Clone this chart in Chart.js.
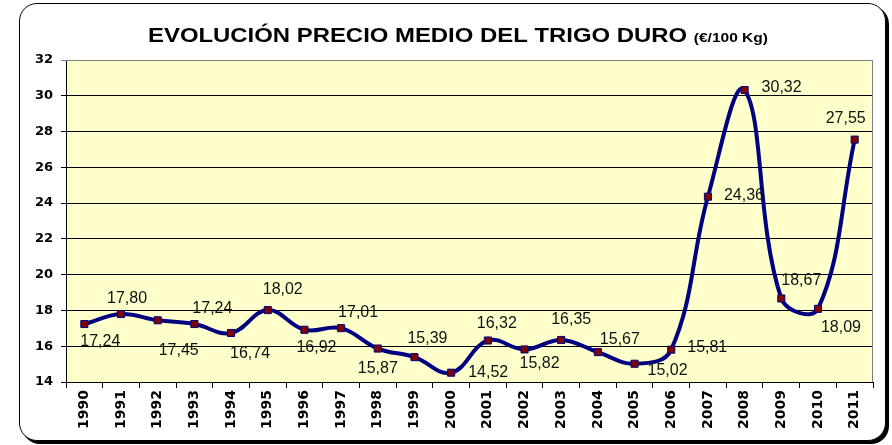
<!DOCTYPE html>
<html>
<head>
<meta charset="utf-8">
<script src="https://cdn.jsdelivr.net/npm/chart.js@4/dist/chart.umd.min.js"></script>
<style>
    html, body { margin: 0; padding: 0; background: #fff; }
    #wrap { position: relative; width: 892px; height: 445px; }
    #frame {
        position: absolute; left: 19px; top: 3px; width: 865px; height: 436px;
        border: 1.5px solid #000; border-radius: 18px; box-shadow: 3px 3px 0 #000;
        background: #fff;
    }
    #chart { position: absolute; left: 0; top: 0; }
</style>
</head>
<body>
<div id="wrap">
    <div id="frame"></div>
    <canvas id="chart" width="892" height="445"></canvas>
</div>
<script>
const years = ['1990', '1991', '1992', '1993', '1994', '1995', '1996', '1997', '1998', '1999', '2000',
               '2001', '2002', '2003', '2004', '2005', '2006', '2007', '2008', '2009', '2010', '2011'];
const prices = [17.24, 17.80, 17.45, 17.24, 16.74, 18.02, 16.92, 17.01, 15.87, 15.39, 14.52,
                16.32, 15.82, 16.35, 15.67, 15.02, 15.81, 24.36, 30.32, 18.67, 18.09, 27.55];
const yTicks = [14, 16, 18, 20, 22, 24, 26, 28, 30, 32];

const titleMain = 'EVOLUCIÓN PRECIO MEDIO DEL TRIGO DURO ';
const titleUnit = '(€/100 Kg)';

// where each value label sits, relative to its point (px)
const labelOffsets = [
    [16, 18], [6, -15], [21, 30], [18, -15], [19, 21], [15, -20], [12, 18], [17, -16],
    [0, 20], [13, -19], [37, 0], [9, -17], [15, 14], [10, -20], [22, -13], [33, 7],
    [36, -2], [36, -1], [37, -2], [20, -18], [23, 19], [-9, -21]
];

const plotBackground = {
    id: 'plotBackground',
    beforeDraw(chart) {
        const { ctx, chartArea: a } = chart;
        ctx.save();
        ctx.fillStyle = '#FFFFCC';
        ctx.fillRect(a.left, a.top, a.right - a.left, a.bottom - a.top);
        ctx.restore();
    },
    afterDraw(chart) {
        const { ctx, chartArea: a } = chart;
        ctx.save();
        ctx.strokeStyle = '#808080';
        ctx.lineWidth = 1;
        ctx.beginPath();
        ctx.moveTo(a.left, a.top + 0.5);
        ctx.lineTo(a.right - 0.5, a.top + 0.5);
        ctx.lineTo(a.right - 0.5, a.bottom);
        ctx.stroke();
        ctx.restore();
    }
};

const titleText = {
    id: 'titleText',
    afterDraw(chart) {
        const ctx = chart.ctx;
        ctx.save();
        ctx.fillStyle = '#000';
        ctx.textBaseline = 'alphabetic';
        ctx.font = 'bold 20px "Liberation Sans", Arial, sans-serif';
        const w1 = ctx.measureText(titleMain).width;
        ctx.font = 'bold 13px "Liberation Sans", Arial, sans-serif';
        const w2 = ctx.measureText(titleUnit).width;
        const target = 620;
        const sx = target / (w1 + w2);
        ctx.translate(458 - target / 2, 42);
        ctx.scale(sx, 1);
        ctx.font = 'bold 20px "Liberation Sans", Arial, sans-serif';
        ctx.fillText(titleMain, 0, 0);
        ctx.font = 'bold 13px "Liberation Sans", Arial, sans-serif';
        ctx.fillText(titleUnit, w1, 0);
        ctx.restore();
    }
};

const valueLabels = {
    id: 'valueLabels',
    afterDatasetsDraw(chart) {
        const ctx = chart.ctx;
        const meta = chart.getDatasetMeta(0);
        ctx.save();
        ctx.fillStyle = '#111';
        ctx.font = '16px "Liberation Sans", Arial, sans-serif';
        ctx.textAlign = 'center';
        ctx.textBaseline = 'middle';
        meta.data.forEach((pt, i) => {
            const off = labelOffsets[i];
            const txt = prices[i].toFixed(2).replace('.', ',');
            ctx.fillText(txt, pt.x + off[0], pt.y + off[1]);
        });
        ctx.restore();
    }
};

new Chart(document.getElementById('chart'), {
    type: 'line',
    data: {
        labels: years,
        datasets: [{
            data: prices,
            borderColor: '#000080',
            borderWidth: 4,
            tension: 0.4,
            fill: false,
            pointStyle: 'rect',
            pointRadius: 5,
            pointBackgroundColor: '#800000',
            pointBorderColor: '#000080',
            pointBorderWidth: 1
        }]
    },
    options: {
        responsive: false,
        animation: false,
        layout: { padding: { top: 60, right: 19, left: 0, bottom: 0 } },
        plugins: {
            legend: { display: false },
            title: { display: false },
            tooltip: { enabled: false }
        },
        scales: {
            x: {
                offset: true,
                grid: {
                    offset: true,
                    drawOnChartArea: false,
                    drawTicks: true,
                    tickLength: 6,
                    color: '#000'
                },
                border: { color: '#000', width: 1 },
                ticks: {
                    autoSkip: false,
                    minRotation: 90,
                    maxRotation: 90,
                    padding: 2,
                    color: '#000',
                    font: { family: '"DejaVu Sans", sans-serif', weight: 'bold', size: 14 }
                },
                afterFit(scale) { scale.height = 63; }
            },
            y: {
                min: 14,
                max: 32,
                afterBuildTicks(scale) { scale.ticks = yTicks.map(v => ({ value: v })); },
                grid: {
                    color: ctx => ctx.tick && ctx.tick.value === 32 ? '#808080' : '#000',
                    lineWidth: 1,
                    tickLength: 5,
                    drawTicks: true
                },
                border: { color: '#000', width: 1 },
                ticks: {
                    padding: 8,
                    color: '#000',
                    font: { family: '"DejaVu Sans", sans-serif', weight: 'bold', size: 13 }
                },
                afterFit(scale) { scale.width = 66; }
            }
        }
    },
    plugins: [plotBackground, titleText, valueLabels]
});
</script>
</body>
</html>
